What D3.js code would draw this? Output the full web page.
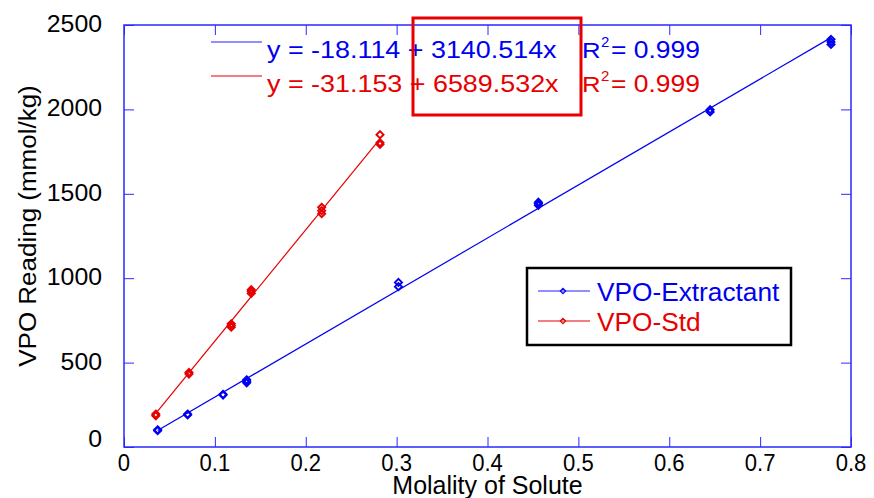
<!DOCTYPE html>
<html>
<head>
<meta charset="utf-8">
<script src="https://cdn.jsdelivr.net/npm/d3@7"></script>
<style>
  body { margin: 0; background: #fff; }
  text { font-family: "Liberation Sans", Arial, sans-serif; }
</style>
</head>
<body>
<svg id="chart" width="874" height="498"></svg>
<script>
// data
var extX = [0.037, 0.037, 0.070, 0.070, 0.109, 0.109, 0.135, 0.135, 0.135, 0.302, 0.302,
            0.456, 0.456, 0.456, 0.645, 0.645, 0.778, 0.778, 0.778];
var extY = [97, 102, 190, 195, 308, 312, 380, 390, 398, 950, 975,
            1432, 1442, 1450, 1985, 1998, 2385, 2400, 2415];
var stdX = [0.035, 0.035, 0.0715, 0.0715, 0.118, 0.118, 0.118, 0.140, 0.140, 0.140,
            0.2175, 0.2175, 0.2175, 0.2817, 0.2817, 0.2817];
var stdY = [185, 195, 432, 442, 710, 720, 730, 910, 922, 932,
            1382, 1400, 1420, 1793, 1803, 1850];

// fit lines: intercept, slope
var extFit = [-18.114, 3140.514];
var stdFit = [-31.153, 6589.532];
var eqLabels = ["y = -18.114 + 3140.514x", "y = -31.153 + 6589.532x"];
var r2Labels = ["= 0.999", "= 0.999"];
var seriesNames = ["VPO-Extractant", "VPO-Std"];

var xTicks = [0, 0.1, 0.2, 0.3, 0.4, 0.5, 0.6, 0.7, 0.8];
var yTicks = [0, 500, 1000, 1500, 2000, 2500];

var blue = "#0000f0", red = "#e60000", axisBlue = "#2a2aff";

// plot box (note: "top" is taken by window.top)
var pL = 124, pR = 851, pT = 25, pB = 447;
var svg = d3.select("#chart");

var x = d3.scaleLinear().domain([0, 0.8]).range([pL, pR]);
var y = d3.scaleLinear().domain([0, 2500]).range([pB, pT]);

// frame + inward ticks on all four sides
function styleAxis(g) {
  g.select(".domain").remove();
  g.selectAll("line").attr("stroke", axisBlue).attr("stroke-width", 1);
  g.selectAll("text").remove();
}
svg.append("g").attr("transform", "translate(0," + pB + ")")
  .call(d3.axisBottom(x).tickValues(xTicks).tickSize(-10).tickSizeOuter(0)).call(styleAxis);
svg.append("g").attr("transform", "translate(0," + pT + ")")
  .call(d3.axisTop(x).tickValues(xTicks).tickSize(-10).tickSizeOuter(0)).call(styleAxis);
svg.append("g").attr("transform", "translate(" + pL + ",0)")
  .call(d3.axisLeft(y).tickValues(yTicks).tickSize(-10).tickSizeOuter(0)).call(styleAxis);
svg.append("g").attr("transform", "translate(" + pR + ",0)")
  .call(d3.axisRight(y).tickValues(yTicks).tickSize(-10).tickSizeOuter(0)).call(styleAxis);

svg.append("rect")
  .attr("x", pL).attr("y", pT)
  .attr("width", pR - pL).attr("height", pB - pT)
  .attr("fill", "none").attr("stroke", axisBlue).attr("stroke-width", 1.5);

// tick labels
svg.selectAll(".xlab").data(xTicks).enter().append("text")
  .attr("transform", function (d) { return "translate(" + x(d) + ",471) scale(0.92,1)"; })
  .attr("text-anchor", "middle").attr("font-size", 24).attr("fill", "#000")
  .text(function (d) { return d; });

svg.selectAll(".ylab").data(yTicks).enter().append("text")
  .attr("transform", function (d) {
    var off = d === 0 ? 0 : 7;
    return "translate(102," + (y(d) + off) + ") scale(1.08,1)";
  })
  .attr("text-anchor", "end").attr("font-size", 23).attr("fill", "#000")
  .text(function (d) { return d; });

// axis titles
svg.append("text")
  .attr("x", (pL + pR) / 2).attr("y", 494)
  .attr("text-anchor", "middle").attr("font-size", 25).attr("fill", "#000")
  .text("Molality of Solute");

svg.append("text")
  .attr("transform", "translate(36,226) rotate(-90) scale(1.13,1)")
  .attr("text-anchor", "middle").attr("font-size", 23).attr("fill", "#000")
  .text("VPO Reading (mmol/kg)");

// fit lines over the data range
function fitLine(xs, fit, color) {
  var ext = d3.extent(xs);
  var line = d3.line()
    .x(function (d) { return x(d); })
    .y(function (d) { return y(fit[0] + fit[1] * d); });
  svg.append("path").datum(ext)
    .attr("d", line).attr("fill", "none")
    .attr("stroke", color).attr("stroke-width", 1.2);
}
fitLine(extX, extFit, blue);
fitLine(stdX, stdFit, red);

var diamond = d3.symbol().type(d3.symbolDiamond2 || d3.symbolDiamond).size(32);

function points(xs, ys, color) {
  svg.append("g").selectAll("path").data(xs).enter().append("path")
    .attr("d", diamond)
    .attr("transform", function (d, i) { return "translate(" + x(d) + "," + y(ys[i]) + ")"; })
    .attr("fill", "none").attr("stroke", color).attr("stroke-width", 1.9);
}
points(extX, extY, blue);
points(stdX, stdY, red);

// equation block
var eqColors = [blue, red];
var eqBase = [58, 92];
eqLabels.forEach(function (lab, i) {
  var sample = i === 0 ? "#6a6aff" : red;
  svg.append("line")
    .attr("x1", 211).attr("x2", 262)
    .attr("y1", eqBase[i] - 16).attr("y2", eqBase[i] - 16)
    .attr("stroke", sample).attr("stroke-width", i === 0 ? 1.5 : 1);
  svg.append("text")
    .attr("transform", "translate(267," + eqBase[i] + ") scale(1.17,1)")
    .attr("font-size", 23).attr("fill", eqColors[i]).text(lab);
  svg.append("text")
    .attr("transform", "translate(582," + eqBase[i] + ") scale(1.12,1)")
    .attr("font-size", 23).attr("fill", eqColors[i]).text("R");
  svg.append("text")
    .attr("x", 601).attr("y", eqBase[i] - 11)
    .attr("font-size", 15).attr("fill", eqColors[i]).text("2");
  svg.append("text")
    .attr("transform", "translate(611," + eqBase[i] + ") scale(1.15,1)")
    .attr("font-size", 23).attr("fill", eqColors[i]).text(r2Labels[i]);
});

// highlight box
svg.append("rect")
  .attr("x", 413).attr("y", 18).attr("width", 168).attr("height", 97)
  .attr("fill", "none").attr("stroke", "#e60000").attr("stroke-width", 3);

// legend
svg.append("rect")
  .attr("x", 527).attr("y", 268).attr("width", 264).attr("height", 77)
  .attr("fill", "#fff").attr("stroke", "#000").attr("stroke-width", 2.5);

var legY = [291, 321];
seriesNames.forEach(function (name, i) {
  var c = i === 0 ? "#6a6aff" : red;
  svg.append("line")
    .attr("x1", 538).attr("x2", 590).attr("y1", legY[i]).attr("y2", legY[i])
    .attr("stroke", c).attr("stroke-width", i === 0 ? 1.5 : 1);
  svg.append("path").attr("d", d3.symbol().type(d3.symbolDiamond2 || d3.symbolDiamond).size(18))
    .attr("transform", "translate(563," + legY[i] + ")")
    .attr("fill", "none").attr("stroke", eqColors[i]).attr("stroke-width", 1.2);
  svg.append("text")
    .attr("transform", "translate(597," + (legY[i] + 10) + ") scale(1.05,1)")
    .attr("font-size", 25).attr("fill", eqColors[i]).text(name);
});
</script>
</body>
</html>
